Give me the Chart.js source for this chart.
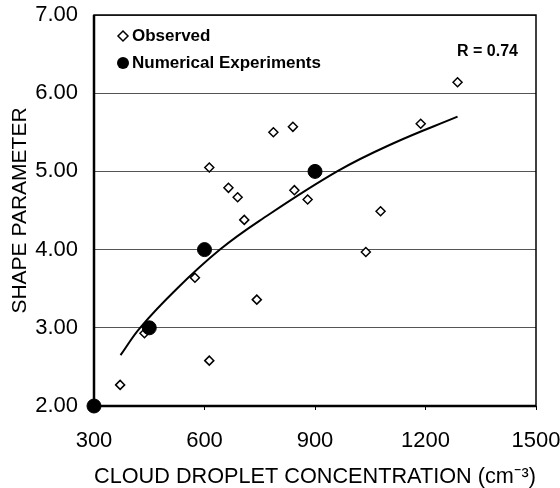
<!DOCTYPE html>
<html>
<head>
<meta charset="utf-8">
<script src="https://cdn.jsdelivr.net/npm/chart.js@4/dist/chart.umd.min.js"></script>
<style>
  html, body { margin: 0; padding: 0; background: #fff; }
  #wrap { width: 560px; height: 488px; }
</style>
</head>
<body>
<div id="wrap"><canvas id="chart" width="560" height="488"></canvas></div>
<script>
// observed points (diamonds)
const obsX = [371, 437, 574, 613, 613, 665, 690, 708, 742, 787, 840, 844, 880, 1038, 1078, 1187, 1287];
const obsY = [2.27, 2.93, 3.64, 5.05, 2.58, 4.79, 4.67, 4.38, 3.36, 5.50, 5.57, 4.76, 4.64, 3.97, 4.49, 5.61, 6.14];

// numerical experiments (filled circles)
const numX = [300, 450, 600, 900];
const numY = [2.00, 3.00, 4.00, 5.00];

// fitted curve
const fitX = [372, 425, 525, 642, 750, 960, 1113, 1287];
const fitY = [2.65, 3.00, 3.50, 4.00, 4.37, 5.00, 5.36, 5.70];

const legendLabels = ['Observed', 'Numerical Experiments'];
const rLabel = 'R = 0.74';
const xTitle = 'CLOUD DROPLET CONCENTRATION (cm\u207B\u00B3)';
const yTitle = 'SHAPE PARAMETER';

const FONT = '"Liberation Sans", Arial, sans-serif';
const zip = (xs, ys) => xs.map((x, i) => ({ x: x, y: ys[i] }));

// box around the plot, legend and R label inside the plot
const boxAndLegend = {
  id: 'boxAndLegend',
  afterDatasetsDraw(chart) {
    const { ctx, chartArea: a } = chart;
    ctx.save();
    ctx.strokeStyle = '#000';
    ctx.lineWidth = 1.5;
    ctx.strokeRect(a.left, a.top, a.right - a.left, a.bottom - a.top);
    ctx.lineWidth = 2.5;
    ctx.beginPath();
    ctx.moveTo(a.left, a.top);
    ctx.lineTo(a.left, a.bottom);
    ctx.lineTo(a.right, a.bottom);
    ctx.stroke();

    // legend
    const lx = a.left + 29;
    const y1 = a.top + 21, y2 = a.top + 48;
    ctx.fillStyle = '#fff';
    ctx.lineWidth = 1.5;
    ctx.beginPath();
    ctx.moveTo(lx, y1 - 5); ctx.lineTo(lx + 5, y1); ctx.lineTo(lx, y1 + 5); ctx.lineTo(lx - 5, y1);
    ctx.closePath(); ctx.fill(); ctx.stroke();
    ctx.fillStyle = '#000';
    ctx.beginPath(); ctx.arc(lx, y2, 6, 0, Math.PI * 2); ctx.fill();

    ctx.font = 'bold 17px ' + FONT;
    ctx.textBaseline = 'middle';
    ctx.textAlign = 'left';
    ctx.fillText(legendLabels[0], lx + 9, y1);
    ctx.fillText(legendLabels[1], lx + 9, y2);

    ctx.font = 'bold 16px ' + FONT;
    ctx.textAlign = 'right';
    ctx.fillText(rLabel, a.right - 18, a.top + 37);
    ctx.restore();
  }
};

new Chart(document.getElementById('chart'), {
  type: 'scatter',
  data: {
    datasets: [
      {
        label: 'Numerical Experiments',
        data: zip(numX, numY),
        pointStyle: 'circle',
        pointRadius: 7,
        backgroundColor: '#000',
        borderColor: '#000',
        clip: false,
        order: 1
      },
      {
        label: 'Observed',
        data: zip(obsX, obsY),
        pointStyle: 'rectRot',
        pointRadius: 4.5,
        backgroundColor: '#fff',
        borderColor: '#000',
        borderWidth: 1.5,
        order: 2
      },
      {
        label: 'fit',
        data: zip(fitX, fitY),
        showLine: true,
        pointRadius: 0,
        borderColor: '#000',
        borderWidth: 2,
        tension: 0.4,
        order: 3
      }
    ]
  },
  options: {
    responsive: false,
    animation: false,
    layout: { padding: { left: 0, right: 24, top: 15, bottom: 0 } },
    plugins: { legend: { display: false }, tooltip: { enabled: false } },
    scales: {
      x: {
        type: 'linear',
        min: 300, max: 1500,
        afterFit: s => { s.height = 82; s.paddingLeft = 0; s.paddingRight = 0; },
        grid: { drawOnChartArea: false, color: '#000', tickLength: 4 },
        border: { display: false },
        ticks: {
          stepSize: 300,
          padding: 18,
          color: '#000',
          font: { family: FONT, size: 22 },
          callback: v => String(v)
        },
        title: {
          display: true,
          text: xTitle,
          color: '#000',
          font: { family: FONT, size: 22.5 },
          padding: { top: 0, bottom: -2 }
        }
      },
      y: {
        min: 2, max: 7,
        afterFit: s => { s.width = 94; s.paddingTop = 0; s.paddingBottom = 0; },
        grid: { color: '#555', borderDash: [2, 1], drawTicks: false, lineWidth: 1 },
        border: { display: false },
        ticks: {
          stepSize: 1,
          padding: 16,
          color: '#000',
          font: { family: FONT, size: 22 },
          callback: v => v.toFixed(2)
        },
        title: {
          display: true,
          text: yTitle,
          color: '#000',
          font: { family: FONT, size: 21 },
          padding: { top: 8, bottom: 0 }
        }
      }
    }
  },
  plugins: [boxAndLegend]
});
</script>
</body>
</html>
